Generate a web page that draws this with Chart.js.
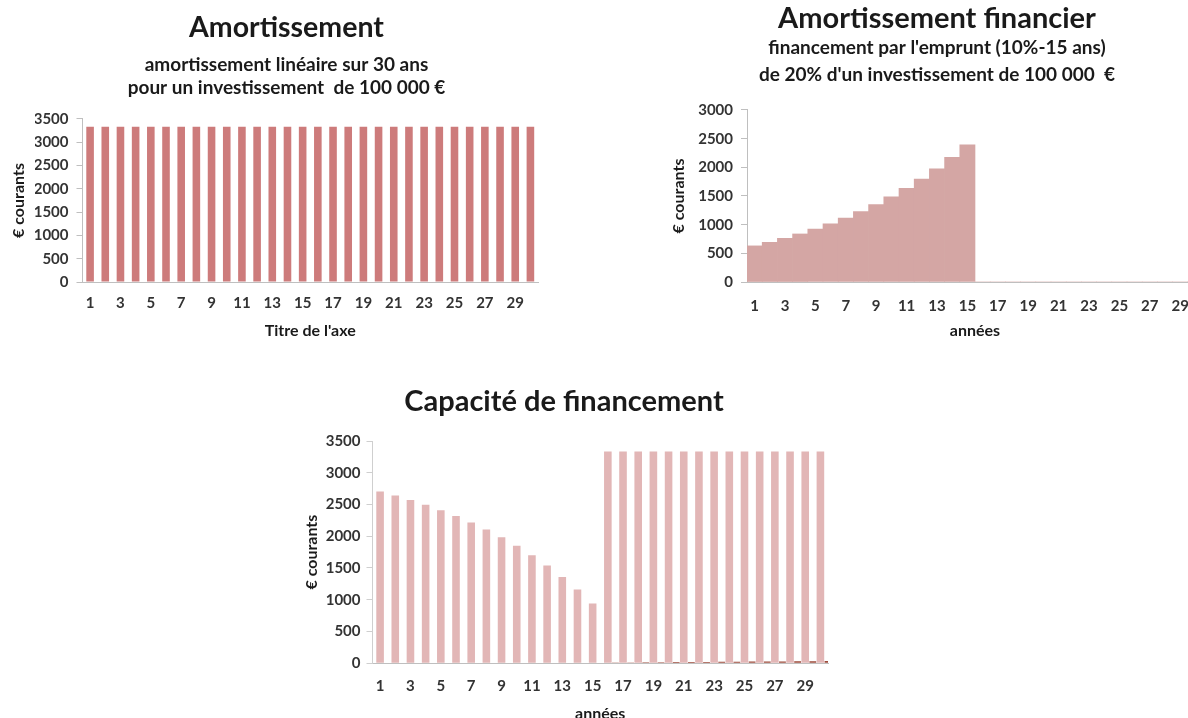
<!DOCTYPE html>
<html><head><meta charset="utf-8">
<script src="https://cdn.jsdelivr.net/npm/chart.js@4.4.1/dist/chart.umd.min.js"></script>
<style>
html,body{margin:0;padding:0;background:#fff;overflow:hidden;width:1188px;height:718px;position:relative;}
canvas{position:absolute;}
</style></head><body>
<canvas id="c1" width="570" height="343" style="left:0px;top:0px"></canvas>
<canvas id="c2" width="560" height="343" style="left:660px;top:0px"></canvas>
<canvas id="c3" width="560" height="351" style="left:290px;top:375px"></canvas>
<script>
// ---- data ----
const years = [1,2,3,4,5,6,7,8,9,10,11,12,13,14,15,16,17,18,19,20,21,22,23,24,25,26,27,28,29,30];
const amortLineaire = [3333,3333,3333,3333,3333,3333,3333,3333,3333,3333,3333,3333,3333,3333,3333,
                       3333,3333,3333,3333,3333,3333,3333,3333,3333,3333,3333,3333,3333,3333,3333];
const amortFinancier = [630,692,762,838,922,1014,1115,1227,1349,1484,1633,1796,1976,2173,2391,
                        0,0,0,0,0,0,0,0,0,0,0,0,0,0,0];
const capacite = [2703,2641,2571,2495,2411,2319,2218,2106,1984,1849,1700,1537,1357,1160,942,
                  3333,3333,3333,3333,3333,3333,3333,3333,3333,3333,3333,3333,3333,3333,3333];
const capaciteAutre = [0,0,0,0,0,0,0,0,0,0,0,0,6,8,9,11,12,14,15,17,18,20,21,23,25,26,28,30,31,33];
const yMax1 = 3500, yMax2 = 3000, yMax3 = 3500, yStep = 500;

// ---- styles ----
const F = 'Lato';
const TXT = '#1a1a1a', TICK = '#333333', AX = '#bfbfbf';
function bf(size, lh){ const f = {family:F, size:size, weight:'bold'}; if (lh) f.lineHeight = lh; return f; }

function yScale(max, width, titlePad, tickPad, axisColor){
  return {
    min:0, max:max,
    ticks:{stepSize:yStep, padding:tickPad, color:TICK, font:bf(15), callback:v => String(v)},
    grid:{display:true, drawOnChartArea:false, drawTicks:true, tickLength:6, color:axisColor||AX},
    border:{display:true, color:axisColor||AX},
    title:{display:true, text:'€ courants', color:TXT, font:bf(16), padding:{top:titlePad, bottom:0}},
    afterFit: s => { s.width = width; }
  };
}
function xScale(title, tickPad, height, titlePadBottom){
  return {
    grid:{display:false},
    border:{display:true, color:AX},
    ticks:{autoSkip:false, maxRotation:0, minRotation:0, padding:tickPad, color:TICK, font:bf(15),
           callback:(v,i)=> (i % 2 === 0 ? String(years[i]) : '')},
    title:{display:true, text:title, color:TXT, font:bf(16), padding:{top:0, bottom:titlePadBottom}},
    afterFit: s => { s.height = height; }
  };
}
const common = { responsive:false, animation:false, devicePixelRatio:1, events:[] };

// ---- chart 1 ----
new Chart(document.getElementById('c1'), {
  type:'bar',
  data:{labels:years, datasets:[{data:amortLineaire, backgroundColor:'#cd7b7b',
        barPercentage:0.5, categoryPercentage:1}]},
  options:Object.assign({}, common, {
    layout:{padding:{left:35, right:32, top:0, bottom:0}},
    plugins:{
      legend:{display:false}, tooltip:{enabled:false},
      title:{display:true, text:'Amortissement', color:TXT, font:bf(28.5, 1.2), padding:{top:10.9, bottom:0}},
      subtitle:{display:true, text:['amortissement linéaire sur 30 ans','pour un investissement  de 100 000 €'],
             color:TXT, font:bf(19, 1.2105), padding:{top:8.4, bottom:19.5}}
    },
    scales:{ x:xScale("Titre de l'axe", 4, 61, 2.1), y:yScale(yMax1, 47.5, -25.6, 8) }
  })
});

// ---- chart 2 ----
new Chart(document.getElementById('c2'), {
  type:'bar',
  data:{labels:years, datasets:[{data:amortFinancier, backgroundColor:'#d4a6a4',
        barPercentage:1, categoryPercentage:1}]},
  options:Object.assign({}, common, {
    layout:{padding:{left:11, right:17, top:0, bottom:0}},
    plugins:{
      legend:{display:false}, tooltip:{enabled:false},
      title:{display:true, text:'Amortissement financier', color:TXT, font:bf(29, 1.0), padding:{top:4.5, bottom:0}},
      subtitle:{display:true, text:["financement par l'emprunt (10%-15 ans)","de 20% d'un investissement de 100 000  €"],
             color:TXT, font:bf(19, 1.421), padding:{top:1, bottom:21.5}}
    },
    scales:{ x:xScale('années', 7, 61, 2.1), y:yScale(yMax2, 76, -1.6, 8) }
  })
});

// ---- chart 3 ----
const boundaryLabels = ['0'].concat(years.map(String));
new Chart(document.getElementById('c3'), {
  type:'bar',
  data:{labels:years, datasets:[
    {data:capacite, backgroundColor:'#e2b6b6', barPercentage:0.5, categoryPercentage:1, grouped:false, xAxisID:'x'},
    {data:[null].concat(capaciteAutre), backgroundColor:'#9c4a3a', barPercentage:0.45, categoryPercentage:1, grouped:false, xAxisID:'x2'}
  ]},
  options:Object.assign({}, common, {
    layout:{padding:{left:10, right:22, top:0, bottom:0}},
    plugins:{
      legend:{display:false}, tooltip:{enabled:false},
      title:{display:true, text:'Capacité de financement', color:TXT, font:bf(29, 1.2), padding:{top:9.6, bottom:21.6}}
    },
    scales:{
      x:xScale('années', 6, 62.8, 2.2),
      x2:{type:'category', labels:boundaryLabels, offset:false, display:false},
      y:yScale(yMax3, 72.5, 2.4, 6, '#cfcfcf')
    }
  })
});
</script>
</body></html>
